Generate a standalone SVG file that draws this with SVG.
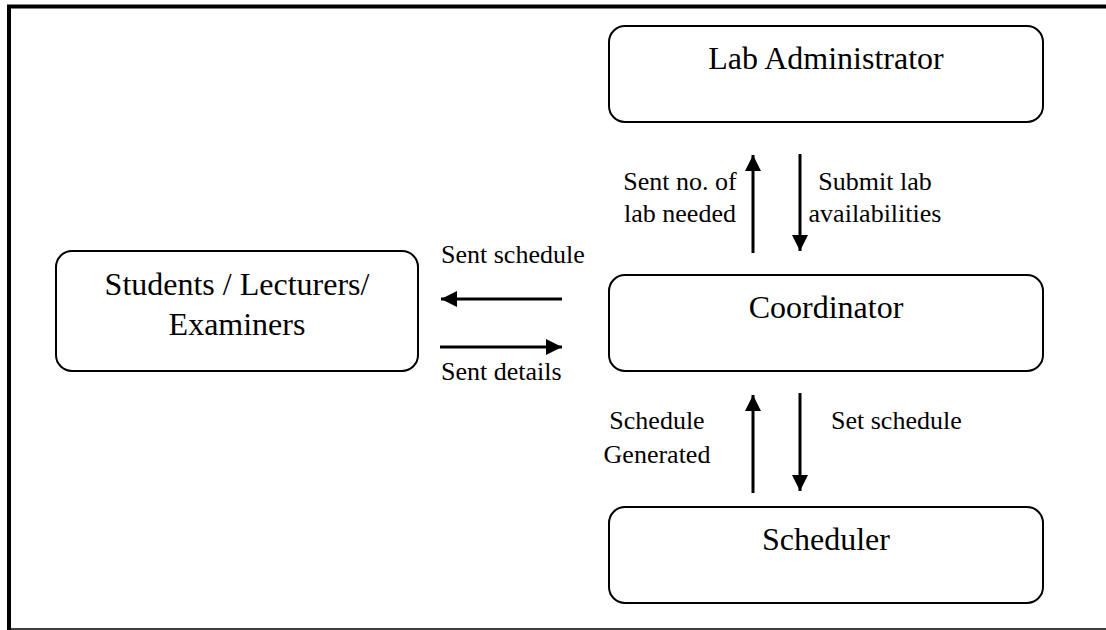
<svg xmlns="http://www.w3.org/2000/svg" width="1106" height="630" viewBox="0 0 1106 630">
  <style>
    .box { fill: #ffffff; stroke: #000000; stroke-width: 2; }
    .flow { stroke: #000000; stroke-width: 3; fill: none; }
    .frame { stroke: #000000; fill: none; }
  </style>
  <defs>
    <marker id="head" viewBox="0 0 16 16" refX="16" refY="8" markerWidth="16" markerHeight="16" markerUnits="userSpaceOnUse" orient="auto">
      <path d="M0,0 L16,8 L0,16 Z" fill="#000000"/>
    </marker>
  </defs>

  <rect width="1106" height="630" fill="#ffffff"/>

  <!-- page frame: heavy top and left rules, thin bottom rule -->
  <g id="frame">
    <line class="frame" x1="7" y1="6.5" x2="1106" y2="6.5" stroke-width="4"/>
    <line class="frame" x1="9" y1="5" x2="9" y2="630" stroke-width="4"/>
    <line class="frame" x1="7" y1="629" x2="1106" y2="629" stroke-width="1.6"/>
  </g>

  <g font-family="Liberation Serif, Times New Roman, serif" font-size="32" fill="#000000" text-anchor="middle">
    <g id="lab-administrator">
      <rect class="box" x="609" y="26" width="434" height="96" rx="16" ry="16"/>
      <text x="826" y="69" font-family="Liberation Serif, serif">Lab Administrator</text>
    </g>

    <g id="coordinator">
      <rect class="box" x="609" y="275" width="434" height="96" rx="16" ry="16"/>
      <text x="826" y="318" font-family="Liberation Serif, serif">Coordinator</text>
    </g>

    <g id="scheduler">
      <rect class="box" x="609" y="507" width="434" height="96" rx="16" ry="16"/>
      <text x="826" y="550" font-family="Liberation Serif, serif">Scheduler</text>
    </g>

    <g id="users">
      <rect class="box" x="56" y="251" width="362" height="120" rx="16" ry="16"/>
      <text x="237" y="295" font-family="Liberation Serif, serif">Students / Lecturers/</text>
      <text x="237" y="335" font-family="Liberation Serif, serif">Examiners</text>
    </g>
  </g>

  <g id="connectors">
    <!-- Coordinator <-> Lab Administrator -->
    <line class="flow" x1="753" y1="253" x2="753" y2="155" marker-end="url(#head)"/>
    <line class="flow" x1="800" y1="154" x2="800" y2="251" marker-end="url(#head)"/>
    <!-- Coordinator <-> Students / Lecturers / Examiners -->
    <line class="flow" x1="562" y1="299" x2="441" y2="299" marker-end="url(#head)"/>
    <line class="flow" x1="440" y1="347" x2="562" y2="347" marker-end="url(#head)"/>
    <!-- Coordinator <-> Scheduler -->
    <line class="flow" x1="753" y1="493" x2="753" y2="395" marker-end="url(#head)"/>
    <line class="flow" x1="800" y1="393" x2="800" y2="491" marker-end="url(#head)"/>
  </g>

  <g id="connector-labels" font-family="Liberation Serif, serif" font-size="26" fill="#000000">
    <text x="680" y="190" text-anchor="middle">Sent no. of</text>
    <text x="680" y="222" text-anchor="middle">lab needed</text>
    <text x="875" y="190" text-anchor="middle">Submit lab</text>
    <text x="875" y="222" text-anchor="middle">availabilities</text>
    <text x="441" y="263">Sent schedule</text>
    <text x="441" y="380">Sent details</text>
    <text x="657" y="429" text-anchor="middle">Schedule</text>
    <text x="657" y="463" text-anchor="middle">Generated</text>
    <text x="831" y="429">Set schedule</text>
  </g>
</svg>
